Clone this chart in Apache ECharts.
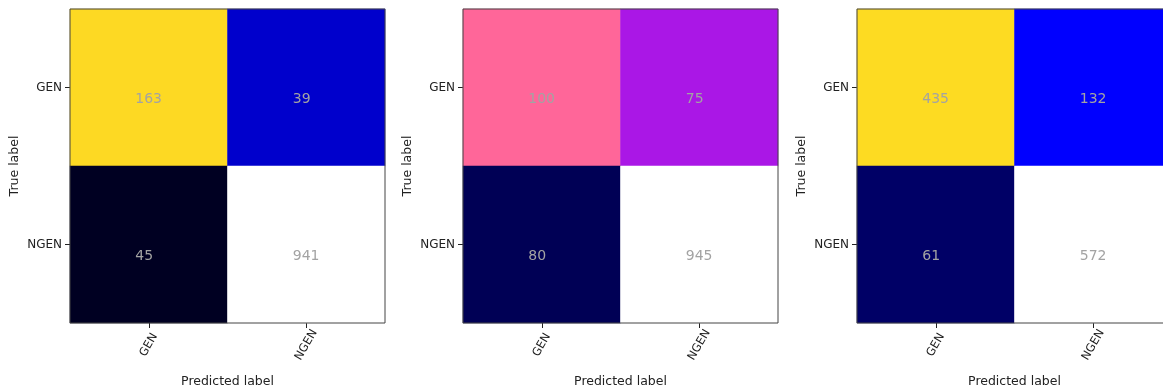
<!DOCTYPE html>
<html><head><meta charset="utf-8">
<script src="https://cdn.jsdelivr.net/npm/echarts@6/dist/echarts.min.js"></script>
<style>html,body{margin:0;padding:0;background:#fff}#c{width:1163px;height:389px}</style>
</head><body><div id="c"></div>
<script>
const predictedLabels = ['GEN', 'NGEN'];
const trueLabels = ['GEN', 'NGEN'];
// matrices: rows = true label, cols = predicted label
const matrix1 = [[163, 39], [45, 941]];
const matrix2 = [[100, 75], [80, 945]];
const matrix3 = [[435, 132], [61, 572]];
const matrices = [matrix1, matrix2, matrix3];
const cellColors = [
  [['#fdd923', '#0000cc'], ['#000022', '#ffffff']],
  [['#ff6699', '#aa17e6'], ['#000055', '#ffffff']],
  [['#fddb22', '#0000ff'], ['#000066', '#ffffff']]
];
const lefts = [70, 463, 857];
const font = 'DejaVu Sans';
const grids = [], xAxes = [], yAxes = [], series = [];
matrices.forEach((m, k) => {
  grids.push({left: lefts[k], top: 9, width: 315, height: 314, show: true,
    outerBoundsMode: 'none', containLabel: false,
    borderColor: '#444', borderWidth: 1, backgroundColor: 'transparent', z: 5});
  xAxes.push({type: 'category', gridIndex: k, data: predictedLabels, position: 'bottom',
    name: 'Predicted label', nameLocation: 'middle', nameGap: 52,
    nameTextStyle: {fontFamily: font, fontSize: 12.5, color: '#222'},
    axisLine: {show: false}, splitLine: {show: false},
    axisTick: {show: true, alignWithLabel: true, length: 5, lineStyle: {color: '#222'}},
    axisLabel: {rotate: 60, align: 'center', verticalAlign: 'middle', fontFamily: font, fontSize: 11.5, color: '#222', margin: 22}});
  yAxes.push({type: 'category', gridIndex: k, data: trueLabels, inverse: true,
    name: 'True label', nameLocation: 'middle', nameGap: 49,
    nameTextStyle: {fontFamily: font, fontSize: 12.5, color: '#222'},
    axisLine: {show: false}, splitLine: {show: false},
    axisTick: {show: true, alignWithLabel: true, length: 5, lineStyle: {color: '#222'}},
    axisLabel: {fontFamily: font, fontSize: 12, color: '#222', margin: 8}});
  const data = [];
  m.forEach((row, i) => row.forEach((v, j) => {
    data.push({value: [j, i, v], itemStyle: {color: cellColors[k][i][j]}});
  }));
  series.push({type: 'heatmap', xAxisIndex: k, yAxisIndex: k, data: data,
    label: {show: true, formatter: p => p.value[2], position: 'inside', align: 'left', offset: [-13.5, 12],
      color: '#a3a3a3', fontFamily: font, fontSize: 14},
    itemStyle: {borderWidth: 0}, emphasis: {disabled: true}});
});
const chart = echarts.init(document.getElementById('c'));
chart.setOption({animation: false, grid: grids, xAxis: xAxes, yAxis: yAxes, series: series});
</script></body></html>
